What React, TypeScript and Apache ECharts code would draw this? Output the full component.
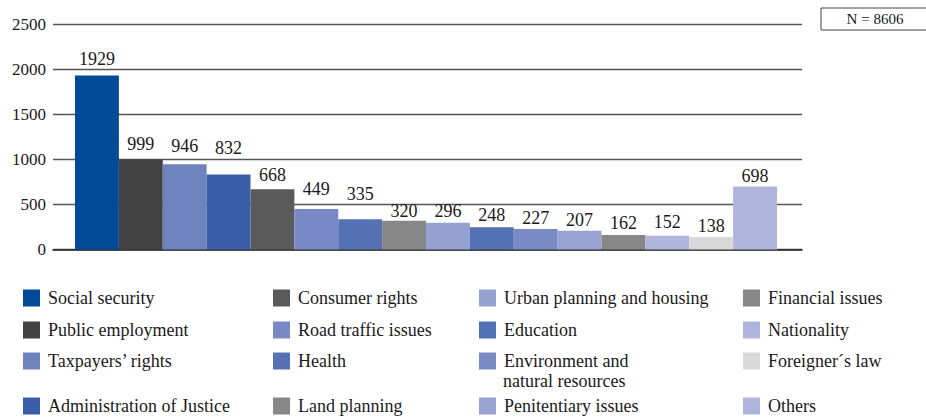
import React, { useEffect, useRef } from "react";
import * as echarts from "echarts";

const categories = [
  "Social security",
  "Public employment",
  "Taxpayers’ rights",
  "Administration of Justice",
  "Consumer rights",
  "Road traffic issues",
  "Health",
  "Land planning",
  "Urban planning and housing",
  "Education",
  "Environment and natural resources",
  "Penitentiary issues",
  "Financial issues",
  "Nationality",
  "Foreigner´s law",
  "Others",
];
const values = [1929, 999, 946, 832, 668, 449, 335, 320, 296, 248, 227, 207, 162, 152, 138, 698];
const colors = [
  "#004a97", "#434343", "#6e82be", "#3a5ea7", "#5a5a5a", "#7889c5", "#5672b5", "#878787",
  "#95a1d1", "#5270b4", "#798ac4", "#99a3d3", "#878787", "#afb5dc", "#d9d9d9", "#afb5dc",
];
const labelLift = [8, 6, 9, 17, 5, 11, 16, 1, 3, 3, 2, 2, 3, 5, 2, 2];
const yTicks = [0, 500, 1000, 1500, 2000, 2500];
const totalN = "N = 8606";

const FONT = "Liberation Serif";

export default function App() {
  const ref = useRef<HTMLDivElement>(null);
  useEffect(() => {
    document.body.style.margin = "0";
    if (!ref.current) return;
    const chart = echarts.init(ref.current, undefined, { renderer: "svg" });
    const colX = [23, 273, 479, 743];
    const rowY = [290, 322, 353, 398];
    const yMax = yTicks[yTicks.length - 1];
    const option: any = {
      animation: false,
      backgroundColor: "#fff",
      grid: [
        { left: 53, right: 124, top: 24, bottom: 167.5 },
        { left: 75, right: 149, top: 24, bottom: 167.5 },
      ],
      xAxis: [
        {
          gridIndex: 0,
          type: "value",
          min: 0,
          max: 1,
          axisLine: { show: true, lineStyle: { color: "#222", width: 1.5 } },
          axisTick: { show: false },
          axisLabel: { show: false },
          splitLine: { show: false },
        },
        {
          gridIndex: 1,
          type: "category",
          data: categories,
          show: false,
        },
      ],
      yAxis: [
        {
          gridIndex: 0,
          type: "value",
          min: 0,
          max: yMax,
          interval: 500,
          axisLine: { show: false },
          axisTick: { show: false },
          axisLabel: {
            margin: 7,
            fontFamily: FONT,
            fontSize: 17,
            color: "#1a1a1a",
            formatter: (v: number) => String(v),
          },
          splitLine: { show: true, lineStyle: { color: "#555", width: 1.3 } },
        },
        {
          gridIndex: 1,
          type: "value",
          min: 0,
          max: yMax,
          show: false,
          splitLine: { show: false },
        },
      ],
      series: categories.map((name, i) => ({
        name,
        type: "bar",
        xAxisIndex: 1,
        yAxisIndex: 1,
        stack: "all",
        barWidth: "100%",
        itemStyle: { color: colors[i] },
        label: {
          show: true,
          position: "top",
          distance: labelLift[i],
          fontFamily: FONT,
          fontSize: 18,
          color: "#1a1a1a",
        },
        data: categories.map((_, j) => (j === i ? values[i] : "-")),
      })),
      legend: categories.map((name, i) => ({
        data: [name],
        left: colX[Math.floor(i / 4)] - 5,
        top: rowY[i % 4] - 6,
        itemWidth: 17,
        itemHeight: 17,
        icon: "rect",
        selectedMode: false,
        formatter: i === 10 ? () => "Environment and" : undefined,
        textStyle: { fontFamily: FONT, fontSize: 18, color: "#1a1a1a", padding: [0, 0, 0, 3] },
      })),
      graphic: [
        {
          type: "text",
          left: 503,
          top: 372,
          style: { text: "natural resources", fontFamily: FONT, fontSize: 18, fill: "#1a1a1a" },
        },
        {
          type: "rect",
          shape: { x: 821, y: 8, width: 110, height: 22 },
          style: { fill: "#fff", stroke: "#444", lineWidth: 1 },
        },
        {
          type: "text",
          x: 875,
          y: 19,
          style: {
            text: totalN,
            fontFamily: FONT,
            fontSize: 15,
            fill: "#1a1a1a",
            align: "center",
            verticalAlign: "middle",
          },
        },
      ],
    };
    chart.setOption(option);
    return () => chart.dispose();
  }, []);
  return <div ref={ref} style={{ width: 926, height: 417 }} />;
}
